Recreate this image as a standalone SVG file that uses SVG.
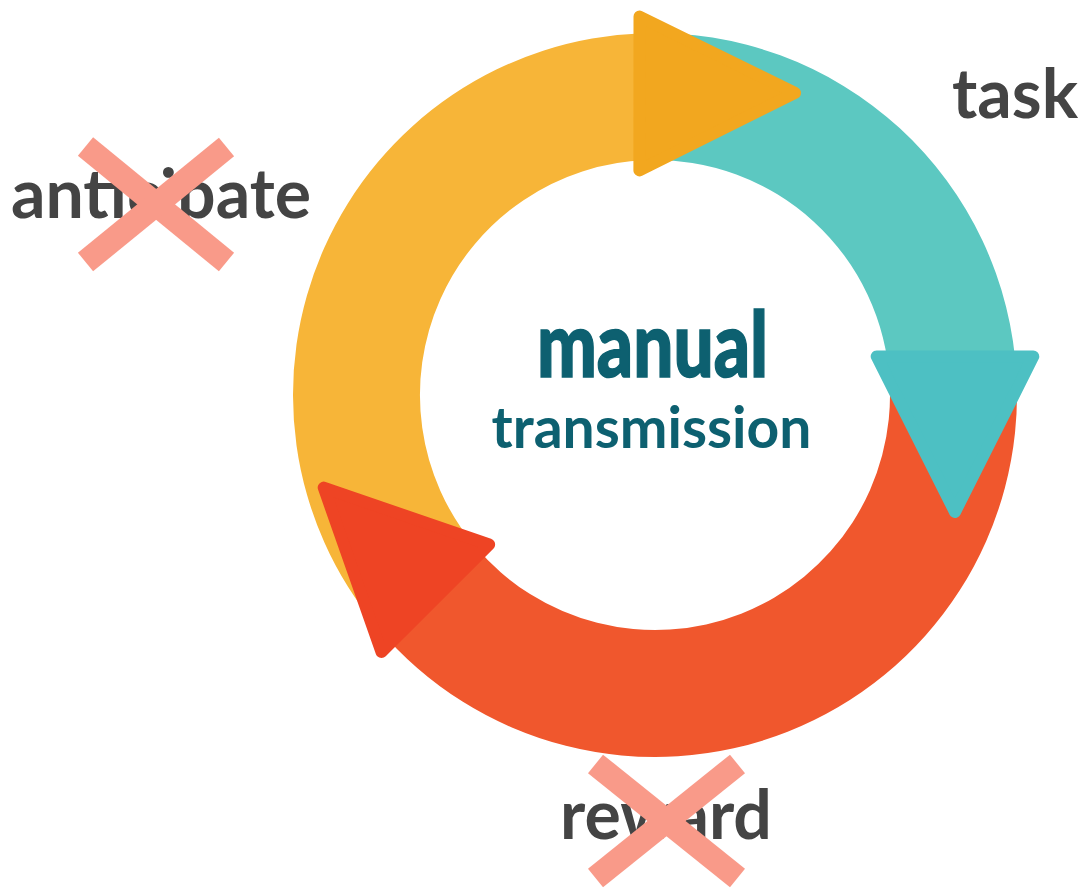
<svg xmlns="http://www.w3.org/2000/svg" width="1088" height="890" viewBox="0 0 1088 890">
  <style>
    .label { font-family: Lato, "Noto Sans", "Liberation Sans", sans-serif; font-weight: 700; font-size: 68px; fill: #444444; text-anchor: middle; }
    .title { font-family: Lato, "Noto Sans", "Liberation Sans", sans-serif; font-weight: 900; font-size: 91px; fill: #0D6070; stroke: #0D6070; stroke-width: 1.5; text-anchor: middle; }
    .subtitle { font-family: Lato, "Noto Sans", "Liberation Sans", sans-serif; font-weight: 700; font-size: 57px; fill: #0D6070; text-anchor: middle; }
    .strike { stroke: #F99A89; stroke-width: 24; stroke-linecap: butt; fill: none; }
    .head { stroke-width: 12; stroke-linejoin: round; }
  </style>
  <rect width="1088" height="890" fill="#FFFFFF"/>

  <!-- ring segments, centre (655,395), outer r 362, inner r 235 -->
  <g id="stage-anticipate">
    <path d="M377.7,627.7 A362,362 0 0 1 642.4,33.2 L646.8,160.1 A235,235 0 0 0 475.0,546.1 Z" fill="#F7B538"/>
    <text class="label" x="161" y="218">anticipate</text>
    <g class="strike">
      <line x1="85.5" y1="146.5" x2="226.5" y2="262"/>
      <line x1="226.5" y1="147" x2="85.5" y2="262"/>
    </g>
  </g>

  <g id="stage-task">
    <path d="M642.4,33.2 A362,362 0 0 1 1016.5,376.1 L889.7,382.7 A235,235 0 0 0 646.8,160.1 Z" fill="#5CC8C1"/>
    <text class="label" x="1015" y="118">task</text>
  </g>

  <g id="stage-reward">
    <path d="M1016.5,376.1 A362,362 0 0 1 377.7,627.7 L475.0,546.1 A235,235 0 0 0 889.7,382.7 Z" fill="#F0572D"/>
    <text class="label" x="666" y="839">reward</text>
    <g class="strike">
      <line x1="595.5" y1="764" x2="737.5" y2="878"/>
      <line x1="737.5" y1="764" x2="595.5" y2="878"/>
    </g>
  </g>

  <!-- arrowheads linking one stage to the next -->
  <g id="connectors">
    <polygon class="head" points="639.5,16.6 795,93 639.4,170.4" fill="#F2A71F" stroke="#F2A71F"/>
    <polygon class="head" points="876.7,356.4 1033.3,356.4 955,512" fill="#4DC0C3" stroke="#4DC0C3"/>
    <polygon class="head" points="489.1,544.5 381.5,652.1 323.7,487.6" fill="#EE4424" stroke="#EE4424"/>
  </g>

  <g id="centre-title">
    <text class="title" transform="translate(652.5,377) scale(0.78,1)" x="0" y="0">manual</text>
    <text class="subtitle" x="651.5" y="448">transmission</text>
  </g>
</svg>
